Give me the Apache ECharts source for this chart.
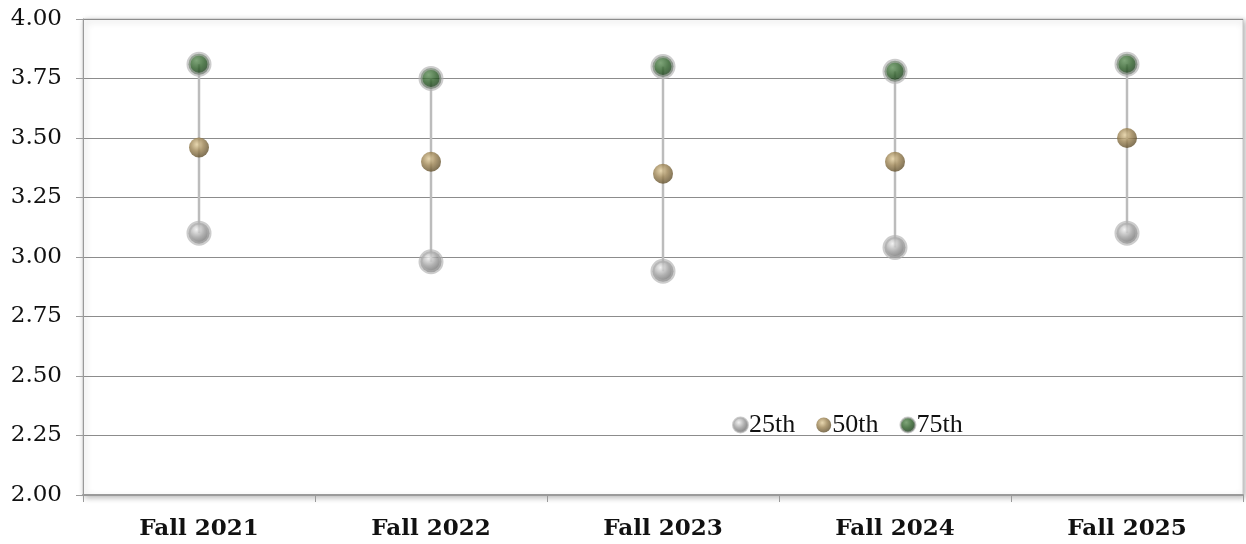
<!DOCTYPE html>
<html><head><meta charset="utf-8">
<script src="https://cdn.jsdelivr.net/npm/echarts@6/dist/echarts.min.js"></script>
<style>html,body{margin:0;padding:0;background:#fff}#c{width:1246px;height:544px}</style>
</head><body><div id="c"></div>
<script>
const categories = ['Fall 2021','Fall 2022','Fall 2023','Fall 2024','Fall 2025'];
const p25 = [3.10, 2.98, 2.94, 3.04, 3.10];
const p50 = [3.46, 3.40, 3.35, 3.40, 3.50];
const p75 = [3.81, 3.75, 3.80, 3.78, 3.81];
const yTicks = [2.00, 2.25, 2.50, 2.75, 3.00, 3.25, 3.50, 3.75, 4.00];

function sphere(light, mid, dark){
  return {type:'radial', x:0.4, y:0.35, r:0.65, colorStops:[
    {offset:0, color:light},{offset:0.5, color:mid},{offset:1, color:dark}]};
}
const chart = echarts.init(document.getElementById('c'));
const serif = '"DejaVu Serif", serif';
const times = '"Liberation Serif", serif';
const rangeData = categories.map((c,i)=>[i, p25[i], p75[i]]);
chart.setOption({
  animation:false,
  grid:{left:83, right:3, top:19, bottom:49, show:true, backgroundColor:'#fff', borderColor:'#c8c8c8', borderWidth:1,
    shadowColor:'rgba(0,0,0,0.3)', shadowBlur:6, shadowOffsetX:2, shadowOffsetY:2},
  legend:{left:727, top:407, itemWidth:15, itemHeight:15, itemGap:21,
    textStyle:{fontFamily:times, fontSize:26, color:'#111', padding:[0,0,0,-4]},
    data:[{name:'25th', icon:'circle'},{name:'50th', icon:'circle'},{name:'75th', icon:'circle'}]},
  xAxis:{type:'category', data:categories, boundaryGap:true,
    axisLine:{lineStyle:{color:'#9a9a9a', width:2}},
    axisTick:{show:true, length:7, lineStyle:{color:'#9a9a9a'}},
    axisLabel:{fontFamily:serif, fontWeight:'bold', fontSize:23, color:'#111', margin:23}},
  yAxis:{type:'value', min:2, max:4, interval:0.25,
    axisLine:{show:true, lineStyle:{color:'#9a9a9a', width:1}},
    axisTick:{show:true, length:7, lineStyle:{color:'#9a9a9a'}},
    splitLine:{lineStyle:{color:'#8c8c8c', width:1}},
    axisLabel:{fontFamily:serif, fontSize:23, color:'#111', margin:21, formatter:v=>v.toFixed(2)}},
  series:[
    {type:'custom', name:'range', data:rangeData, z:1, silent:true,
      renderItem:(params, api)=>{
        const a = api.coord([api.value(0), api.value(1)]);
        const b = api.coord([api.value(0), api.value(2)]);
        return {type:'line', shape:{x1:a[0], y1:a[1], x2:b[0], y2:b[1]}, style:{stroke:'#bcbcbc', lineWidth:2.5}};
      }},
    {type:'scatter', name:'25th', data:p25, symbolSize:21, z:3,
      itemStyle:{color:sphere('#eeeeee','#9c9c9c','#5c5c5c'), borderColor:'rgba(175,175,175,0.8)', borderWidth:4}},
    {type:'scatter', name:'50th', data:p50, symbolSize:20, z:3,
      itemStyle:{color:sphere('#e2cd9c','#9c8352','#62502c')}},
    {type:'scatter', name:'75th', data:p75, symbolSize:21, z:3,
      itemStyle:{color:sphere('#5f8f58','#295a24','#0f2b11'), borderColor:'rgba(175,175,175,0.8)', borderWidth:4}}
  ]
});
</script></body></html>
